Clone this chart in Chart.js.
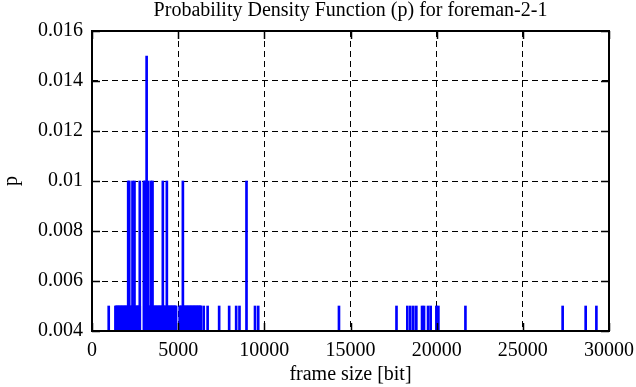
<!DOCTYPE html>
<html>
<head>
<meta charset="utf-8">
<script src="https://cdn.jsdelivr.net/npm/chart.js@4/dist/chart.umd.min.js"></script>
<style>
  html, body { margin: 0; padding: 0; background: #fff; }
  #wrap { width: 636px; height: 387px; }
</style>
</head>
<body>
<div id="wrap"><canvas id="c" width="636" height="387"></canvas></div>
<script>
// ---- data ----
const chartTitle = 'Probability Density Function (p) for foreman-2-1';
const xTitle = 'frame size [bit]';
const yTitle = 'p';

// frame sizes (bit) with p = 0.005 (dense cluster + isolated ones)
const sizesP005 = [
  970,
  1360, 1402, 1447, 1493, 1536, 1581, 1627, 1669, 1716, 1760, 1806, 1851, 1897, 1940, 1986,
  2031, 2074, 2118, 2203, 2247, 2290, 2336, 2381, 2426, 2509, 2553, 2598, 2642, 2687, 2731, 2770,
  3035, 3061, 3107, 3196, 3215, 3294, 3337, 3380, 3458, 3557, 3601, 3646, 3690, 3737, 3781,
  3824, 3870, 3913, 3958, 4003, 4047, 4092, 4157, 4201, 4246, 4291, 4388, 4432, 4477, 4521,
  4566, 4611, 4655, 4700, 4744, 4789, 4834, 4878, 5085, 5129, 5173, 5218, 5318, 5362, 5407,
  5451, 5496, 5540, 5585, 5629, 5674, 5718, 5763, 5807, 5852, 5896, 5941, 5985, 6030, 6074,
  6119, 6163, 6208, 6252, 6296, 6320,
  6483, 6709, 7378, 7959, 8366, 8558, 9459, 9645,
  14331, 17669, 18297, 18471, 18646, 18820, 19151, 19267, 19500, 19651, 19983, 20099,
  21669, 27310, 28646, 29268
];
// frame sizes with p = 0.01
const sizesP010 = [2100, 2160, 2350, 2465, 2773, 3010, 3080, 3250, 3413, 3512, 4110, 4343, 5273, 8965];
// frame sizes with p = 0.015
const sizesP015 = [3170];

const xTickValues = [0, 5000, 10000, 15000, 20000, 25000, 30000];
const xTickLabels = ['0', '5000', '10000', '15000', '20000', '25000', '30000'];
const yTickValues = [0.004, 0.006, 0.008, 0.010, 0.012, 0.014, 0.016];
const yTickLabels = ['0.004', '0.006', '0.008', '0.01', '0.012', '0.014', '0.016'];

// ---- build library data ----
const points = [];
sizesP005.forEach(x => points.push({x: x, y: 0.005}));
sizesP010.forEach(x => points.push({x: x, y: 0.010}));
sizesP015.forEach(x => points.push({x: x, y: 0.015}));
points.sort((a, b) => a.x - b.x);

const FONT = 'Liberation Serif';
const FS = 20;

const framePlugin = {
  id: 'frame',
  afterLayout(chart) {
    // centre the title over the plot area, as gnuplot does
    if (chart.titleBlock) {
      chart.titleBlock.left = chart.chartArea.left;
      chart.titleBlock.right = chart.chartArea.right;
    }
  },
  afterDraw(chart) {
    const ctx = chart.ctx;
    const a = chart.chartArea;
    const xs = chart.scales.x, ys = chart.scales.y;
    ctx.save();
    ctx.strokeStyle = '#000';
    ctx.lineWidth = 1.5;
    const tl = 8;
    ctx.beginPath();
    xTickValues.forEach(v => {
      const p = Math.round(xs.getPixelForValue(v)) + 0.5;
      ctx.moveTo(p, a.bottom); ctx.lineTo(p, a.bottom - tl);
      ctx.moveTo(p, a.top); ctx.lineTo(p, a.top + tl);
    });
    yTickValues.forEach(v => {
      const p = Math.round(ys.getPixelForValue(v)) + 0.5;
      ctx.moveTo(a.left, p); ctx.lineTo(a.left + tl, p);
      ctx.moveTo(a.right, p); ctx.lineTo(a.right - tl, p);
    });
    ctx.stroke();
    ctx.lineWidth = 2;
    ctx.strokeRect(Math.round(a.left), Math.round(a.top), Math.round(a.right - a.left), Math.round(a.bottom - a.top));
    ctx.restore();
  }
};

new Chart(document.getElementById('c'), {
  type: 'bar',
  data: {
    datasets: [{
      data: points,
      backgroundColor: '#0000ff',
      borderWidth: 0,
      barThickness: 2,
      grouped: false
    }]
  },
  plugins: [framePlugin],
  options: {
    responsive: false,
    animation: false,
    devicePixelRatio: 1,
    layout: { padding: { left: 0, right: 27, top: 0, bottom: 0 } },
    plugins: {
      legend: { display: false },
      tooltip: { enabled: false },
      title: {
        display: true,
        text: chartTitle,
        color: '#000',
        font: { family: FONT, size: FS, weight: 'normal', lineHeight: 1.1 },
        padding: { top: 0, bottom: 9 }
      }
    },
    scales: {
      x: {
        type: 'linear',
        min: 0, max: 30000,
        offset: false,
        afterBuildTicks: s => { s.ticks = xTickValues.map(v => ({value: v})); },
        afterFit: s => { s.height = 56; s.paddingLeft = 0; s.paddingRight = 0; },
        grid: { color: '#000', lineWidth: 1, drawTicks: false, offset: false },
        border: { display: false, dash: [6, 4] },
        ticks: {
          color: '#000', font: { family: FONT, size: FS }, padding: 8,
          maxRotation: 0, autoSkip: false,
          callback: (v, i) => xTickLabels[i]
        },
        title: {
          display: true, text: xTitle, color: '#000',
          font: { family: FONT, size: FS }, padding: { top: 0, bottom: 0 }
        }
      },
      y: {
        type: 'linear',
        min: 0.004, max: 0.016,
        afterBuildTicks: s => { s.ticks = yTickValues.map(v => ({value: v})); },
        afterFit: s => { s.width = 92; },
        grid: { color: '#000', lineWidth: 1, drawTicks: false },
        border: { display: false, dash: [6, 4] },
        ticks: {
          color: '#000', font: { family: FONT, size: FS }, padding: 9,
          autoSkip: false,
          callback: (v, i) => yTickLabels[i]
        },
        title: {
          display: true, text: yTitle, color: '#000',
          font: { family: FONT, size: FS }, padding: { top: 0, bottom: 0 }
        }
      }
    }
  }
});
</script>
</body>
</html>
